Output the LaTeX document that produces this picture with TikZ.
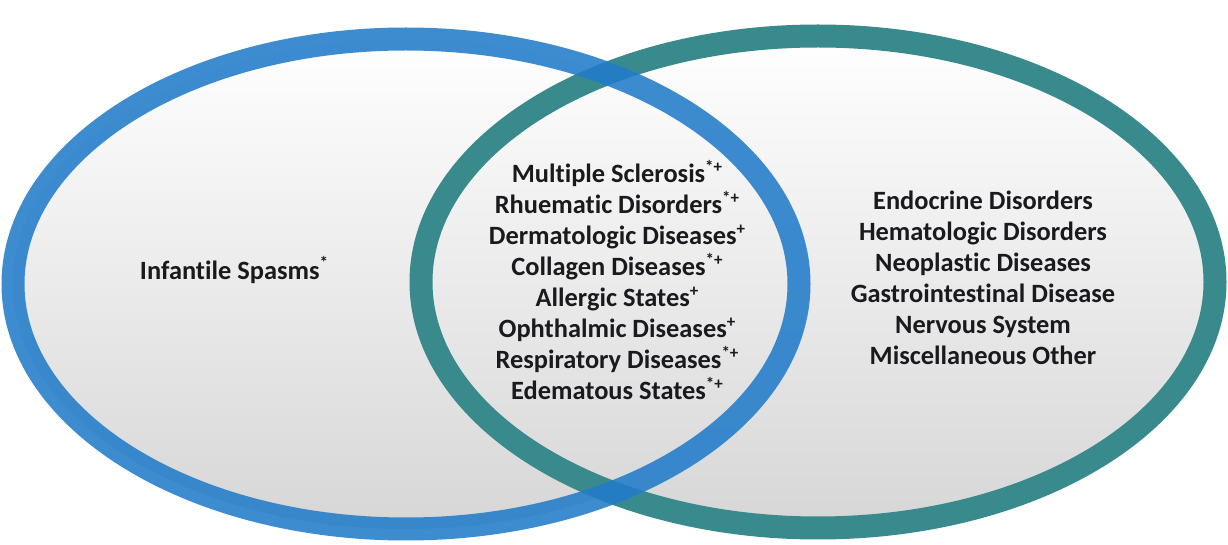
\documentclass[tikz,border=0pt]{standalone}
\usepackage{fontspec}
\setmainfont{Carlito}[Ligatures=CommonOff]
\definecolor{ringblue}{RGB}{34,124,202}
\definecolor{ringteal}{RGB}{56,138,140}
\definecolor{txt}{RGB}{25,25,30}
\tikzset{
  fillell/.style={top color=white,bottom color=black!16},
  ring/.style={line width=11.5pt},
  lbl/.style={font=\bfseries\fontsize{13.2pt}{15.5pt}\selectfont,text=txt,align=center,inner sep=0pt}
}
\newcommand{\mksup}[1]{\raisebox{0.4em}{\fontsize{8.5pt}{8.5pt}\selectfont #1}}
\begin{document}
\begin{tikzpicture}[x=0.5pt,y=-0.5pt]
\useasboundingbox (0,0) rectangle (1228,545);
\shade[fillell] (406,284) ellipse [x radius=393,y radius=245];
\shade[fillell] (818,282) ellipse [x radius=397,y radius=246];
\draw[ring,ringteal] (818,282) ellipse [x radius=397,y radius=246];
\draw[ring,ringblue,opacity=0.88] (406,284) ellipse [x radius=393,y radius=245];
\node[lbl] (left) at (234,270) {Infantile Spasms\mksup{*}};
\node[lbl] (mid) at (617,280) {Multiple Sclerosis\mksup{*+}\\
Rhuematic Disorders\mksup{*+}\\
Dermatologic Diseases\mksup{+}\\
Collagen Diseases\mksup{*+}\\
Allergic States\mksup{+}\\
Ophthalmic Diseases\mksup{+}\\
Respiratory Diseases\mksup{*+}\\
Edematous States\mksup{*+}};
\node[lbl] (right) at (983,278) {Endocrine Disorders\\
Hematologic Disorders\\
Neoplastic Diseases\\
Gastrointestinal Disease\\
Nervous System\\
Miscellaneous Other};
\end{tikzpicture}
\end{document}
